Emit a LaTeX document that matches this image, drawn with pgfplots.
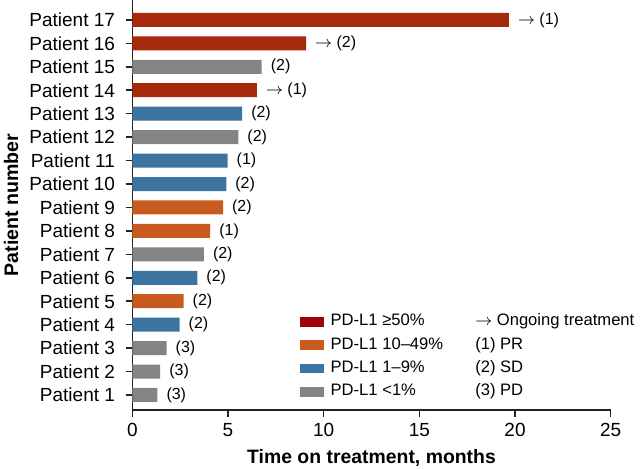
\documentclass[border=0pt]{standalone}
\usepackage{fontspec}
\setmainfont{Liberation Sans}
\usepackage{pgfplots}
\pgfplotsset{compat=1.18}
\definecolor{cRed}{HTML}{A62A0C}
\definecolor{cRedL}{HTML}{A0000A}
\definecolor{cOrange}{HTML}{C75B1F}
\definecolor{cBlue}{HTML}{3B74A0}
\definecolor{cGray}{HTML}{848484}
\definecolor{axc}{HTML}{222222}
\newcommand{\arr}{$\rightarrow$}
\begin{document}
\fontsize{9.5}{11}\selectfont
\begin{tikzpicture}
\begin{axis}[
  name=ax,
  scale only axis,
  width=239.2pt, height=205pt,
  xbar, bar width=7pt, bar shift=0pt,
  xmin=0, xmax=25, ymin=0.36, ymax=17.85,
  axis x line*=bottom, axis y line*=left,
  axis line style={axc, line width=0.75pt},
  every tick/.style={axc, line width=0.75pt},
  tick align=outside,
  major tick length=3.3pt,
  xtick={0,5,10,15,20,25},
  ytick={1,...,17},
  yticklabels={Patient 1,Patient 2,Patient 3,Patient 4,Patient 5,Patient 6,Patient 7,Patient 8,Patient 9,Patient 10,Patient 11,Patient 12,Patient 13,Patient 14,Patient 15,Patient 16,Patient 17},
  ticklabel style={font=\fontsize{9.5}{11}\selectfont},
  yticklabel style={xshift=-2pt},
  /pgf/number format/assume math mode=true,
  xlabel={\bfseries Time on treatment, months},
  ylabel={\bfseries Patient number},
  xlabel style={font=\fontsize{9.7}{11}\selectfont},
  ylabel style={font=\fontsize{9.8}{11}\selectfont, yshift=-1pt},
  point meta=explicit symbolic,
  nodes near coords,
  nodes near coords align={horizontal},
  every node near coord/.append style={font=\fontsize{8}{9}\selectfont, anchor=west, xshift=1.2pt, black},
  legend columns=2,
  legend cell align=left,
  legend style={at={(rel axis cs:0.349,0.24)}, anchor=north west, draw=none, fill=none,
    inner sep=0pt, font=\fontsize{8.3}{9}\selectfont,
    nodes={inner sep=1pt, text height=6pt, text depth=2pt},
    row sep=1.65pt,
    /tikz/every odd column/.append style={column sep=2.5pt},
    /tikz/every even column/.append style={column sep=11.5pt}},
  legend image code/.code={\path[#1, draw=none] (0pt,-2.4pt) rectangle (12pt,2.4pt);},
]
\addplot[fill=cRed, draw=none, forget plot] coordinates {
  (19.68,17) [\arr\ (1)]
  (9.08,16) [\arr\ (2)]
  (6.51,14) [\arr\ (1)]
};
\addplot[fill=cGray, draw=none, forget plot] coordinates {
  (6.76,15) [(2)]
  (5.54,12) [(2)]
  (3.74,7) [(2)]
  (1.79,3) [(3)]
  (1.46,2) [(3)]
  (1.31,1) [(3)]
};
\addplot[fill=cBlue, draw=none, forget plot] coordinates {
  (5.74,13) [(2)]
  (4.98,11) [(1)]
  (4.91,10) [(2)]
  (3.40,6) [(2)]
  (2.47,4) [(2)]
};
\addplot[fill=cOrange, draw=none, forget plot] coordinates {
  (4.74,9) [(2)]
  (4.07,8) [(1)]
  (2.68,5) [(2)]
};
\addlegendimage{fill=cRedL}
\addlegendentry{PD-L1 ≥50\%}
\addlegendimage{empty legend}
\addlegendentry{\arr\ Ongoing treatment}
\addlegendimage{fill=cOrange}
\addlegendentry{PD-L1 10–49\%}
\addlegendimage{empty legend}
\addlegendentry{(1) PR}
\addlegendimage{fill=cBlue}
\addlegendentry{PD-L1 1–9\%}
\addlegendimage{empty legend}
\addlegendentry{(2) SD}
\addlegendimage{fill=cGray}
\addlegendentry{PD-L1 <1\%}
\addlegendimage{empty legend}
\addlegendentry{(3) PD}
\end{axis}
\pgfresetboundingbox
\path[use as bounding box] ([xshift=-66.15pt,yshift=-29.5pt]ax.south west) rectangle ([xshift=14.65pt]ax.north east);
\end{tikzpicture}
\end{document}
